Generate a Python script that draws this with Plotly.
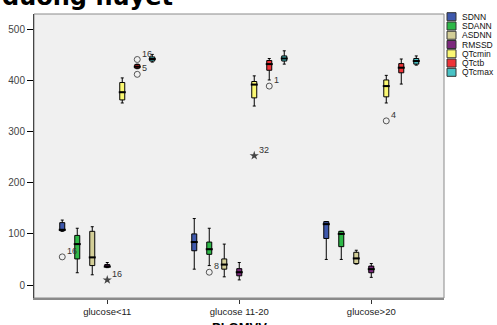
import plotly.graph_objects as go

# ---------------- data ----------------
groups = ["glucose<11", "glucose 11-20", "glucose>20"]
series = ["SDNN", "SDANN", "ASDNN", "RMSSD", "QTcmin", "QTctb", "QTcmax"]
colors = ["#3E58AC", "#2EB848", "#D3CE97", "#7C287D", "#FBF873", "#EF3338", "#48C2C5"]

# one row per series, one value per glucose group
lower = [[105, 31, 50], [24, 38, 50], [20, 16, 41], [34, 10, 15],
         [356, 350, 356], [423, 401, 393], [436, 432, 430]]
q1 = [[106, 67, 91], [51, 60, 75], [38, 31, 42], [35, 18, 24],
      [362, 366, 368], [424, 420, 415], [438, 438, 432]]
median = [[108, 84, 119], [80, 70, 100], [54, 40, 52], [36, 25, 31],
          [377, 392, 389], [427, 432, 425], [442, 443, 438]]
q3 = [[122, 100, 124], [97, 84, 105], [105, 51, 64], [40, 32, 37],
      [396, 398, 401], [431, 439, 433], [446, 448, 443]]
upper = [[127, 130, 124], [111, 111, 105], [114, 80, 68], [44, 44, 42],
         [405, 409, 410], [432, 443, 442], [451, 458, 448]]

# outliers
out_series = ["SDNN", "RMSSD", "QTctb", "QTctb", "SDANN", "QTcmin", "QTctb", "QTcmin"]
out_group = ["glucose<11", "glucose<11", "glucose<11", "glucose<11",
             "glucose 11-20", "glucose 11-20", "glucose 11-20", "glucose>20"]
out_value = [55, 10, 441, 412, 25, 253, 389, 321]
out_label = ["16", "16", "16", "5", "8", "32", "1", "4"]
out_kind = ["o", "*", "o", "o", "o", "*", "o", "o"]

yticks = [0, 100, 200, 300, 400, 500]

# ---------------- layout constants ----------------
W, H = 497, 325
L, R, T, B = 34, 53, 14, 27
slot = 15 / 132.0          # spacing between boxes inside a group (category units)
box_w = 5 / 132.0          # box width (category units)
FONT = "Liberation Sans, Arial, sans-serif"


def xpos(gi, si):
    return gi + (si - (len(series) - 1) / 2.0) * slot


fig = go.Figure()

for si, name in enumerate(series):
    xs = [xpos(gi, si) for gi in range(len(groups))]
    fig.add_trace(go.Box(
        x=xs, q1=q1[si], median=median[si], q3=q3[si],
        lowerfence=lower[si], upperfence=upper[si],
        width=box_w, whiskerwidth=0.6,
        fillcolor=colors[si], line=dict(color="black", width=1),
        boxpoints=False, showlegend=False, name=name,
    ))
    # thicker median line
    fig.add_trace(go.Scatter(
        x=xs, y=median[si], mode="markers",
        marker=dict(symbol="line-ew", size=5, line=dict(color="black", width=2)),
        showlegend=False, hoverinfo="skip",
    ))

# outliers
for kind in ["o", "*"]:
    idx = [i for i, k in enumerate(out_kind) if k == kind]
    xs = [xpos(groups.index(out_group[i]), series.index(out_series[i])) for i in idx]
    ys = [out_value[i] for i in idx]
    if kind == "o":
        mk = dict(symbol="circle-open", size=6, color="#555555", line=dict(width=1, color="#555555"))
    else:
        mk = dict(symbol="star", size=7, color="#444444", line=dict(width=0))
    fig.add_trace(go.Scatter(x=xs, y=ys, mode="markers", marker=mk,
                             showlegend=False, hoverinfo="skip"))

annotations = []
for i in range(len(out_value)):
    annotations.append(dict(
        x=xpos(groups.index(out_group[i]), series.index(out_series[i])), y=out_value[i],
        xref="x", yref="y", text=out_label[i], showarrow=False,
        xanchor="left", yanchor="middle", xshift=3, yshift=6,
        font=dict(family=FONT, size=9, color="#333333"),
    ))

# clipped title on top and axis title at bottom
annotations.append(dict(
    x=-0.083, y=1, xref="paper", yref="paper", text="<b>đường huyết</b>",
    showarrow=False, xanchor="left", yanchor="bottom", yshift=1,
    font=dict(family="DejaVu Sans, Verdana, sans-serif", size=24, color="black"),
))
annotations.append(dict(
    x=0.5, y=0, xref="paper", yref="paper", text="<b>PLGMVV</b>",
    showarrow=False, xanchor="center", yanchor="top", yshift=-20,
    font=dict(family=FONT, size=13, color="black"),
))

pw = W - L - R
ph = H - T - B


def px_x(p):
    return (p - L) / pw


def px_y(p):
    return (H - B - p) / ph


shapes = [dict(type="rect", xref="paper", yref="paper", x0=0, x1=1, y0=0, y1=1,
               line=dict(color="#8a8a8a", width=1), layer="above")]

# manual legend
for si, name in enumerate(series):
    cy = 16.7 + si * 9.27
    shapes.append(dict(type="rect", xref="paper", yref="paper",
                       x0=px_x(447), x1=px_x(456), y0=px_y(cy + 4), y1=px_y(cy - 4),
                       fillcolor=colors[si], line=dict(color="#333333", width=1)))
    annotations.append(dict(
        x=px_x(460), y=px_y(cy), xref="paper", yref="paper", text=name,
        showarrow=False, xanchor="left", yanchor="middle",
        font=dict(family=FONT, size=8.5, color="#111111"),
    ))

fig.update_layout(
    template="none",
    width=W, height=H,
    margin=dict(l=L, r=R, t=T, b=B, pad=0, autoexpand=False),
    paper_bgcolor="white", plot_bgcolor="#F0F0F0",
    showlegend=False,
    boxmode="overlay",
    font=dict(family=FONT, size=10, color="#333333"),
    xaxis=dict(range=[-0.555, 2.551], tickvals=list(range(len(groups))), ticktext=groups,
               ticks="outside", ticklen=4, tickcolor="#333333", showgrid=False, zeroline=False,
               showline=True, linecolor="#8a8a8a", linewidth=2, automargin=False,
               tickfont=dict(family=FONT, size=9.5, color="#222222")),
    yaxis=dict(range=[-25.4, 530], tickvals=yticks, ticks="outside", ticklen=6,
               tickcolor="black", showgrid=False, zeroline=False,
               showline=True, linecolor="black", linewidth=1, automargin=False,
               tickfont=dict(family=FONT, size=10, color="#444444")),
    shapes=shapes, annotations=annotations,
)

fig.write_html("out.html", config={"displayModeBar": False},
               post_script="document.body.style.margin='0px';document.body.style.padding='0px';")
